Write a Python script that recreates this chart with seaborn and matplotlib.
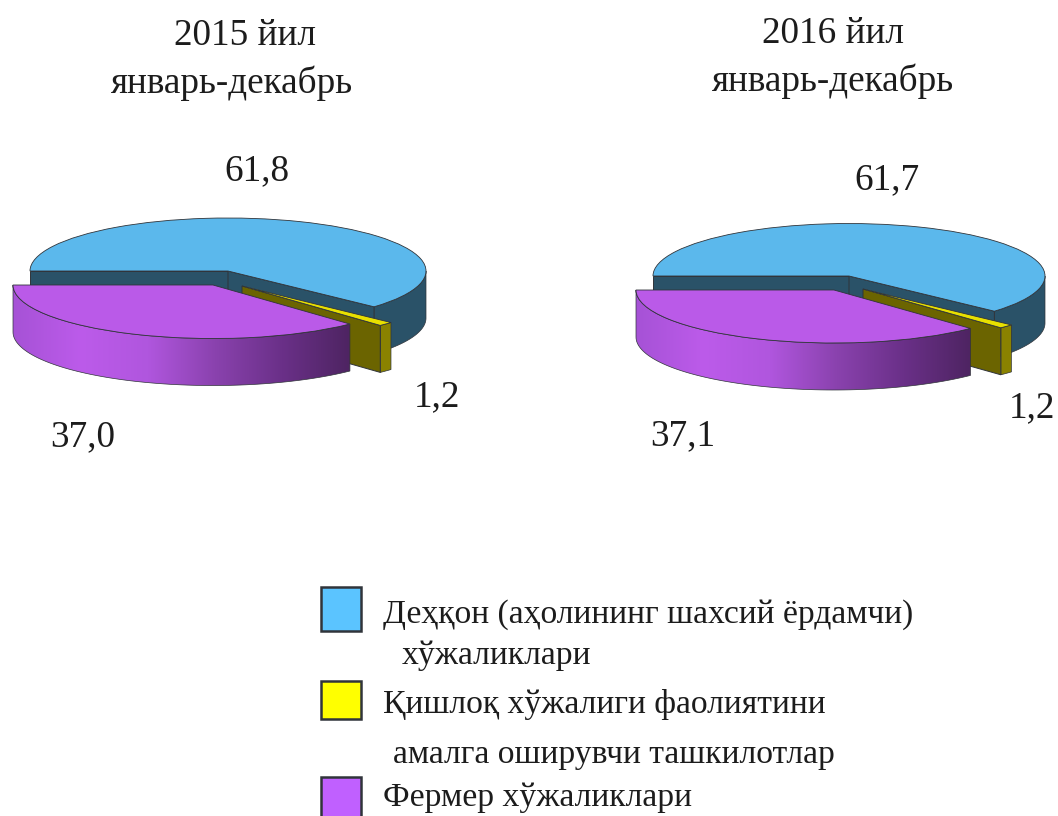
import numpy as np
import seaborn as sns
import matplotlib.pyplot as plt
from matplotlib.patches import Polygon, Rectangle

# values
values_2015 = [61.8, 1.2, 37.0]
values_2016 = [61.7, 1.2, 37.1]
labels_2015 = ['61,8', '1,2', '37,0']
labels_2016 = ['61,7', '1,2', '37,1']
titles_2015 = ['2015 йил', 'январь-декабрь']
titles_2016 = ['2016 йил', 'январь-декабрь']
legend_lines = ['Деҳқон (аҳолининг шахсий ёрдамчи)', 'хўжаликлари',
                'Қишлоқ хўжалиги фаолиятини', 'амалга оширувчи ташкилотлар',
                'Фермер хўжаликлари']

W, H = 1058, 816
SQUASH = 53 / 198

top_colors = ['#5BB8EC', '#E8E000', '#BA5AE8']
wall_colors = ['#2A5268', '#6B6400', '#8A42AE']
rim_colors = ['#2A5268', '#8A8200', '#8A42AE']
swatch_colors = ['#5BC4FF', '#FFFF00', '#C060FF']
edge = '#30343a'

sns.set_theme(style='white')
plt.rcParams['font.family'] = ['Liberation Serif', 'DejaVu Serif']
purple_shade = sns.blend_palette(['#A652D6', '#BC5BEA', '#B056DE', '#8A42AE', '#6A3088', '#4E2462'], as_cmap=True)

fig = plt.figure(figsize=(W / 100, H / 100), dpi=100)
ax = fig.add_axes([0, 0, 1, 1])


def Y(py):
    return (H - py) / SQUASH


def arc(center, r, a, b, drop=0):
    t = np.radians(np.linspace(a, b, 80))
    return np.column_stack([center[0] + r * np.cos(t), center[1] - drop + r * np.sin(t)])


def rim_points(w, drop):
    a, b = max(w.theta1, -180), min(w.theta2, 0)
    return np.vstack([arc(w.center, w.r, a, b), arc(w.center, w.r, b, a, drop)])


def wall_points(w, angle, drop):
    cx, cy = w.center
    ex, ey = arc(w.center, w.r, angle, angle)[0]
    return [(cx, cy), (ex, ey), (ex, ey - drop), (cx, cy - drop)]


def draw_pie(vals, cx, cy, r, depth, yellow_shift, purple_shift):
    drop = depth / SQUASH
    wedges, _ = ax.pie(vals, colors=top_colors, radius=r, center=(cx, Y(cy)), startangle=180,
                       counterclock=False, wedgeprops=dict(edgecolor=edge, linewidth=0.6))
    blue, yellow, purple = wedges
    yellow.set_center((cx + yellow_shift[0], Y(cy + yellow_shift[1])))
    yellow.set_radius(r + 4)
    purple.set_center((cx + purple_shift[0], Y(cy + purple_shift[1])))
    purple.set_radius(r + 2)

    # blue body
    ax.add_patch(Polygon(rim_points(blue, drop), fc=rim_colors[0], ec=edge, lw=0.5, zorder=1))
    ax.add_patch(Polygon(wall_points(blue, 180, drop), fc=wall_colors[0], ec=edge, lw=0.7, zorder=1))
    ax.add_patch(Polygon(wall_points(blue, blue.theta1, drop), fc=wall_colors[0], ec=edge, lw=0.7, zorder=1))
    blue.set_zorder(2)

    # yellow body
    ax.add_patch(Polygon(rim_points(yellow, drop), fc=rim_colors[1], ec=edge, lw=0.5, zorder=3))
    ax.add_patch(Polygon(wall_points(yellow, yellow.theta1, drop), fc=wall_colors[1], ec=edge, lw=0.7, zorder=3))
    yellow.set_zorder(4)

    # purple body, shaded left to right
    body = Polygon(rim_points(purple, drop), fc='none', ec=edge, lw=0.5, zorder=6)
    ax.add_patch(body)
    xs = body.get_xy()[:, 0]
    ys = body.get_xy()[:, 1]
    im = ax.imshow(np.linspace(0, 1, 256)[None, :], extent=(xs.min(), xs.max(), ys.min(), ys.max()),
                   aspect='auto', cmap=purple_shade, zorder=5, interpolation='bilinear')
    im.set_clip_path(body)
    purple.set_zorder(7)


draw_pie(values_2015, 228, 271, 198, 47, (14, 15), (-15, 14))
draw_pie(values_2016, 849, 276, 196, 47, (14, 13), (-15, 14))

ax.set_xlim(0, W)
ax.set_ylim(0, H / SQUASH)
ax.set_aspect('auto')
ax.axis('off')


def put(x, y, s, size=26.8, ha='center'):
    ax.text(x, Y(y + 3), s, fontsize=size, ha=ha, va='center', color='#1c1c1c', zorder=10)


put(245, 33, titles_2015[0])
put(232, 80, titles_2015[1])
put(833, 31, titles_2016[0])
put(833, 78, titles_2016[1])
put(257, 168, labels_2015[0])
put(437, 394, labels_2015[1])
put(83, 434, labels_2015[2])
put(887, 177, labels_2016[0])
put(1032, 405, labels_2016[1])
put(683, 433, labels_2016[2])

# legend
for color, top, bottom in zip(swatch_colors, [587, 681, 777], [631, 719, 821]):
    ax.add_patch(Rectangle((321, Y(bottom)), 40, Y(top) - Y(bottom), fc=color, ec=edge, lw=1.8, zorder=10, clip_on=False))
for line, x, y in zip(legend_lines, [383, 402, 383, 393, 383], [612, 653, 702, 752, 795]):
    put(x, y, line, size=24.2, ha='left')

fig.savefig('out.png', dpi=100, facecolor='white')
